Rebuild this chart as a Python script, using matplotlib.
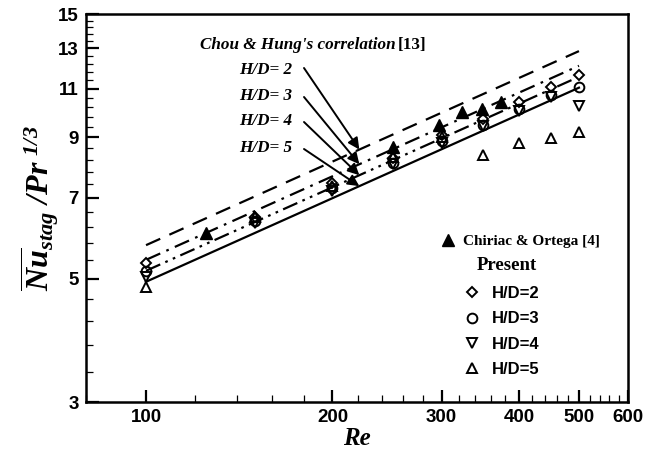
import numpy as np
import matplotlib
matplotlib.use("Agg")
import matplotlib.pyplot as plt
from matplotlib.ticker import FixedLocator, NullFormatter
from matplotlib.lines import Line2D

plt.rcParams['mathtext.fontset'] = 'custom'
plt.rcParams['mathtext.rm'] = 'Liberation Serif:bold:italic'
plt.rcParams['mathtext.it'] = 'Liberation Serif:bold:italic'
plt.rcParams['mathtext.bf'] = 'Liberation Serif:bold:italic'

# Chou & Hung's correlation lines (endpoints)
corr_re = [100, 500]
corr_hd2 = [5.75, 12.86]
corr_hd3 = [5.41, 12.10]
corr_hd4 = [5.17, 11.56]
corr_hd5 = [4.94, 11.05]

# Chiriac & Ortega [4]
chir_re = [125, 250, 297, 324, 349, 374]
chir_nu = [6.05, 8.63, 9.47, 9.97, 10.1, 10.4]

# Present results
pres_re = [100, 150, 200, 250, 300, 350, 400, 450, 500]
pres_hd2 = [5.34, 6.45, 7.45, 8.25, 9.08, 9.72, 10.43, 11.06, 11.65]
pres_hd3 = [5.17, 6.35, 7.28, 8.10, 8.85, 9.47, 10.10, 10.72, 11.10]
pres_hd4 = [5.04, 6.30, 7.20, 8.05, 8.80, 9.42, 10.05, 10.65, 10.24]
pres_hd5 = [4.84, 6.45, 7.35, 8.30, 9.00, 8.36, 8.80, 8.96, 9.20]

xticks = [100, 200, 300, 400, 500, 600]
yticks = [3, 5, 7, 9, 11, 13, 15]

fig = plt.figure(figsize=(6.48, 4.57), dpi=100)
ax = fig.add_axes([86/648, 1-402/457, 542/648, 388/457])
ax.set_xscale('log')
ax.set_yscale('log')
ax.set_xlim(80, 600)
ax.set_ylim(3, 15)

lw = 1.6
ax.plot(corr_re, corr_hd2, color='black', lw=lw, dashes=(7, 4.5))
ax.plot(corr_re, corr_hd3, color='black', lw=lw, dashes=(7, 3, 1.2, 3))
ax.plot(corr_re, corr_hd4, color='black', lw=lw, dashes=(7, 2.5, 1.2, 2.5, 1.2, 2.5))
ax.plot(corr_re, corr_hd5, color='black', lw=lw, linestyle='-')

ms = 7
mew = 1.4
ax.plot(pres_re, pres_hd2, linestyle='none', marker='D', ms=ms-1.5, mfc='white', mec='black', mew=mew)
ax.plot(pres_re, pres_hd3, linestyle='none', marker='o', ms=ms, mfc='none', mec='black', mew=mew)
ax.plot(pres_re, pres_hd4, linestyle='none', marker='v', ms=ms, mfc='none', mec='black', mew=mew)
ax.plot(pres_re, pres_hd5, linestyle='none', marker='^', ms=ms, mfc='none', mec='black', mew=mew)
ax.plot(chir_re, chir_nu, linestyle='none', marker='^', ms=ms+1, mfc='black', mec='black')

# ticks
ax.xaxis.set_major_locator(FixedLocator(xticks))
ax.xaxis.set_minor_locator(FixedLocator([r for r in range(80, 601, 20) if r not in xticks]))
ax.xaxis.set_minor_formatter(NullFormatter())
ax.set_xticklabels([str(t) for t in xticks])
ax.yaxis.set_major_locator(FixedLocator(yticks))
ax.yaxis.set_minor_locator(FixedLocator([round(3 + 0.4*i, 2) for i in range(31) if round(3 + 0.4*i, 2) not in yticks]))
ax.yaxis.set_minor_formatter(NullFormatter())
ax.set_yticklabels([str(t) for t in yticks])
ax.tick_params(which='major', direction='in', length=9, width=1.6, labelsize=13.5, pad=5)
ax.tick_params(which='minor', direction='in', length=5, width=0.9)
for lab in ax.get_xticklabels() + ax.get_yticklabels():
    lab.set_fontfamily('Liberation Sans')
    lab.set_fontweight('bold')
for s in ax.spines.values():
    s.set_linewidth(1.8)

ax.set_xlabel('Re', fontfamily='Liberation Serif', fontstyle='italic', fontweight='bold', fontsize=18, labelpad=1)
ax.set_ylabel(r'$\overline{Nu}_{stag}\ /Pr^{\ 1/3}$', fontsize=23, labelpad=-2)

# annotation
fig.text(200/648, 1-45/457, "Chou & Hung's correlation", fontfamily='Liberation Serif', fontstyle='italic',
         fontweight='bold', fontsize=12.3, va='center', ha='left')
fig.text(398/648, 1-45/457, "[13]", fontfamily='Liberation Serif', fontweight='bold', fontsize=12.3, va='center', ha='left')

hd_labels = ['H/D= 2', 'H/D= 3', 'H/D= 4', 'H/D= 5']
label_y = [70, 96, 121, 148]
start_y = [68, 97, 122, 149]
lines_vals = [corr_hd2, corr_hd3, corr_hd4, corr_hd5]
re_target = 221
for lab, ly, sy, vals in zip(hd_labels, label_y, start_y, lines_vals):
    fig.text(292/648, 1-ly/457, lab, fontfamily='Liberation Serif', fontstyle='italic',
             fontweight='bold', fontsize=12.3, va='center', ha='right')
    slope = np.log(vals[1]/vals[0]) / np.log(corr_re[1]/corr_re[0])
    yv = vals[0] * (re_target/corr_re[0])**slope
    ax.annotate('', xy=(re_target, yv), xycoords='data',
                xytext=(304/648, 1-sy/457), textcoords='figure fraction',
                arrowprops=dict(arrowstyle='-|>', color='black', lw=1.4, mutation_scale=17, shrinkA=0, shrinkB=0))

# legends
leg1 = ax.legend([Line2D([], [], linestyle='none', marker='^', ms=ms+1, mfc='black', mec='black')],
                 ['Chiriac & Ortega [4]'], loc='center left', bbox_to_anchor=(440/648, 1-241/457),
                 bbox_transform=fig.transFigure, frameon=False, handlelength=1.0,
                 handletextpad=0.5, borderpad=0, borderaxespad=0,
                 prop={'family': 'Liberation Serif', 'weight': 'bold', 'size': 11})
ax.add_artist(leg1)
handles = [
    Line2D([], [], linestyle='none', marker='D', ms=ms-1.5, mfc='white', mec='black', mew=mew),
    Line2D([], [], linestyle='none', marker='o', ms=ms, mfc='none', mec='black', mew=mew),
    Line2D([], [], linestyle='none', marker='v', ms=ms, mfc='none', mec='black', mew=mew),
    Line2D([], [], linestyle='none', marker='^', ms=ms, mfc='none', mec='black', mew=mew),
]
labels = ['H/D=2', 'H/D=3', 'H/D=4', 'H/D=5']
leg2 = ax.legend(handles, labels, loc='upper left', bbox_to_anchor=(464/648, 1-286/457),
                 bbox_transform=fig.transFigure, frameon=False, handlelength=1.0,
                 handletextpad=0.7, labelspacing=0.62, borderpad=0, borderaxespad=0,
                 prop={'family': 'Liberation Sans', 'weight': 'bold', 'size': 12})
fig.text(507/648, 1-265/457, 'Present', fontfamily='Liberation Serif', fontweight='bold',
         fontsize=13.5, va='center', ha='center')

fig.savefig('out.png', dpi=100)
